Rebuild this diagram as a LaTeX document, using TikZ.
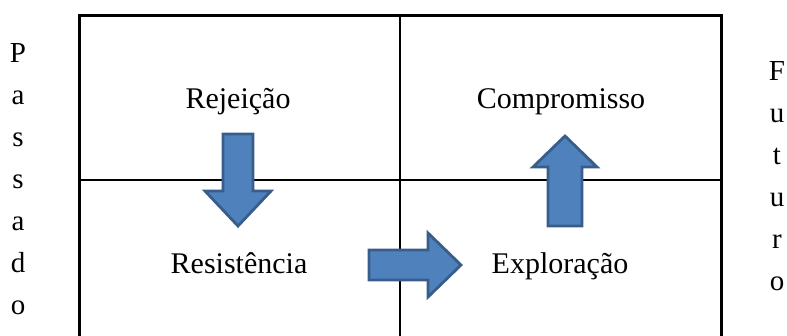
\documentclass[tikz,border=0pt]{standalone}
\usepackage{fontspec}
\setmainfont{Liberation Serif}
\definecolor{arrfill}{HTML}{4F81BD}
\definecolor{arrline}{HTML}{385D8A}
\begin{document}
\begin{tikzpicture}[x=1pt,y=-1pt,
  lbl/.style={font=\fontsize{30}{36}\selectfont, inner sep=0pt, anchor=base},
  side/.style={font=\fontsize{29}{35}\selectfont, inner sep=0pt, anchor=base},
  bigarrow/.style={fill=arrfill, draw=arrline, line width=2.8pt, line join=miter}]
\useasboundingbox (0,0) rectangle (787,335);
\clip (0,0) rectangle (787,335);
% grid
\draw[line width=1.4pt] (79,180) -- (721,180);
\draw[line width=1.4pt] (400,15) -- (400,345);
\draw[line width=3pt] (79,345) -- (79,15) -- (721,15) -- (721,345);
% labels
\node[lbl] (rej) at (238,108) {Rejeição};
\node[lbl] (res) at (239,273) {Resistência};
\node[lbl] (com) at (561,108) {Compromisso};
\node[lbl] (exp) at (560,273) {Exploração};
% arrows
\draw[bigarrow] (223,134) -- (253,134) -- (253,191) -- (271,191) -- (238,226) -- (205,191) -- (223,191) -- cycle;
\draw[bigarrow] (369,250) -- (428,250) -- (428,233) -- (461,265) -- (428,297) -- (428,280) -- (369,280) -- cycle;
\draw[bigarrow] (548,226) -- (548,167) -- (533,167) -- (565,136) -- (597,167) -- (582,167) -- (582,226) -- cycle;
% side words
\foreach \ch [count=\i] in {P,a,s,s,a,d,o} {
  \node[side] (pa\i) at (18,{62+42*(\i-1)}) {\ch};
}
\foreach \ch [count=\i] in {F,u,t,u,r,o} {
  \node[side] (fu\i) at (777,{80+42*(\i-1)}) {\ch};
}
\end{tikzpicture}
\end{document}
